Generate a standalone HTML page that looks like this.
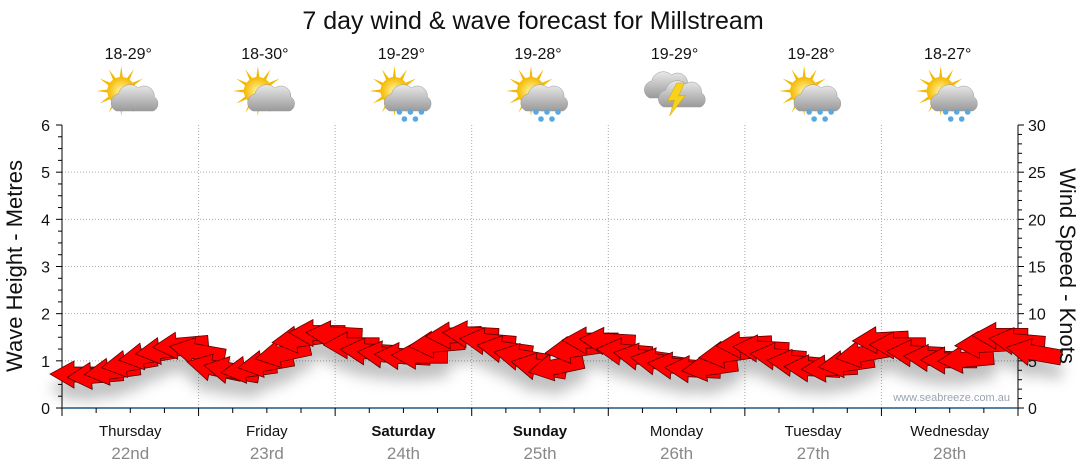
<!DOCTYPE html>
<html><head><meta charset="utf-8"><style>
body{margin:0;background:#fff;}
svg{display:block;font-family:"Liberation Sans","DejaVu Sans",sans-serif;}
</style></head><body>
<svg id="chart" width="1080" height="475" viewBox="0 0 1080 475">
<defs>
<filter id="sh" x="-20%" y="-50%" width="140%" height="250%">
<feDropShadow dx="0" dy="14" stdDeviation="7" flood-color="#000" flood-opacity="0.25"/>
</filter>
<radialGradient id="sun" cx="50%" cy="50%" r="50%"><stop offset="0" stop-color="#fff6a0"/><stop offset="1" stop-color="#f5b800"/></radialGradient>
<linearGradient id="cloud" x1="0" y1="0" x2="0" y2="1"><stop offset="0" stop-color="#e8e8e8"/><stop offset="1" stop-color="#9a9a9a"/></linearGradient>
</defs>
<text x="533" y="29" text-anchor="middle" font-size="25" fill="#111">7 day wind &amp; wave forecast for Millstream</text>
<g id="axes"></g>
<g id="icons"></g>
<g id="arrows" filter="url(#sh)"></g>
<text x="1010" y="401" text-anchor="end" font-size="11" fill="#9aa4b0">www.seabreeze.com.au</text>
<text transform="translate(22,266) rotate(-90)" text-anchor="middle" font-size="22" fill="#111">Wave Height - Metres</text>
<text transform="translate(1060,266) rotate(90)" text-anchor="middle" font-size="22" fill="#111">Wind Speed - Knots</text>
</svg>
<script>
const days = ["Thursday","Friday","Saturday","Sunday","Monday","Tuesday","Wednesday"];
const dates = ["22nd","23rd","24th","25th","26th","27th","28th"];
const boldDays = [false,false,true,true,false,false,false];
const temps = ["18-29°","18-30°","19-29°","19-28°","19-29°","19-28°","18-27°"];
const weather = ["partly","partly","rain","rain","storm","rain","rain"];
const waveTicks = [0,1,2,3,4,5,6];
const windTicks = [0,5,10,15,20,25,30];
const windKnots = [3.6,3.4,3.8,4.6,5.4,6.0,6.6,6.2,
 4.5,4.2,4.0,4.6,5.6,7.2,8.0,7.9,
 6.7,6.1,5.8,5.6,5.6,6.7,7.7,7.9,
 7.2,6.4,5.6,4.6,4.2,6.1,7.2,7.2,
 6.1,5.6,5.1,4.6,4.2,4.2,5.6,6.7,
 6.4,5.6,4.9,4.3,4.2,4.6,5.6,7.2,
 6.7,5.9,5.4,5.1,5.1,6.7,7.7,7.2,6.1];
const windDir = [0,-5,-8,-10,-10,-8,-5,10,
 12,10,-8,-10,-12,-8,0,3,
 0,3,5,3,0,-5,-3,3,
 5,8,10,10,-12,-8,0,3,
 5,8,8,5,3,-8,-8,-3,
 3,5,5,3,-3,-8,-10,-3,
 0,3,3,0,-5,-3,0,5,10];

const NS="http://www.w3.org/2000/svg";
const X0=62,X1=1018,Y0=408,Y1=125;
const dayW=(X1-X0)/7;
const yWave=v=>Y0-(v/6)*(Y0-Y1);
const yWind=v=>Y0-(v/30)*(Y0-Y1);
const xHour=h=>X0+h/24*dayW;
function el(tag,attrs,parent,txt){const e=document.createElementNS(NS,tag);for(const k in attrs)e.setAttribute(k,attrs[k]);if(txt!==undefined)e.textContent=txt;parent.appendChild(e);return e;}
const ax=document.getElementById('axes');
waveTicks.forEach(v=>{ if(v>0&&v<6){const g=el('line',{x1:X0,x2:X1,y1:yWave(v),y2:yWave(v),stroke:'#aaa','stroke-dasharray':'1,2'},ax);

}});
for(let d=1;d<7;d++){const g=el('line',{x1:X0+d*dayW,x2:X0+d*dayW,y1:Y1,y2:Y0,stroke:'#aaa','stroke-dasharray':'1,2'},ax);

}
el('line',{x1:X0,x2:X0,y1:Y1,y2:Y0,stroke:'#000'},ax);
el('line',{x1:X1,x2:X1,y1:Y1,y2:Y0,stroke:'#000'},ax);
el('line',{x1:X0,x2:X1,y1:Y0,y2:Y0,stroke:'#1d5a86','stroke-width':1.5},ax);
for(let i=0;i<=24;i++){const v=i*0.25,y=yWave(v);el('line',{x1:X0-(i%4==0?6:4),x2:X0,y1:y,y2:y,stroke:'#000'},ax);}
for(let i=0;i<=30;i++){const y=yWind(i);el('line',{x1:X1,x2:X1+(i%5==0?6:4),y1:y,y2:y,stroke:'#000'},ax);}
waveTicks.forEach(v=>{const t=el('text',{x:X0-12,y:yWave(v)+6,'text-anchor':'end','font-size':16,fill:'#111'},ax,String(v));

});
windTicks.forEach(v=>{const t=el('text',{x:X1+10,y:yWind(v)+6,'font-size':16,fill:'#111'},ax,String(v));

});
for(let h=0;h<=168;h+=6){const x=xHour(h);el('line',{x1:x,x2:x,y1:Y0,y2:Y0+(h%24==0?8:5),stroke:'#000'},ax);}
days.forEach((d,i)=>{const cx=X0+(i+0.5)*dayW;
const t=el('text',{x:cx,y:436,'text-anchor':'middle','font-size':15,fill:'#111','font-weight':boldDays[i]?'bold':'normal'},ax,d);


const t2=el('text',{x:cx,y:459,'text-anchor':'middle','font-size':17,fill:'#888'},ax,dates[i]);


const t3=el('text',{x:cx-2,y:59,'text-anchor':'middle','font-size':16,fill:'#111'},ax,temps[i]);

});
const ic=document.getElementById('icons');
function sunG(g,cx,cy){for(let a=0;a<360;a+=30){const r=a*Math.PI/180;el('polygon',{points:`${cx+Math.cos(r-0.15)*12},${cy+Math.sin(r-0.15)*12} ${cx+Math.cos(r)*25},${cy+Math.sin(r)*25} ${cx+Math.cos(r+0.15)*12},${cy+Math.sin(r+0.15)*12}`,fill:'#f5b800'},g);}
el('circle',{cx,cy,r:14,fill:'url(#sun)'},g);}
function cloudG(g,cx,cy,s){el('path',{d:`M${cx-19*s},${cy+12*s} a9,9 0 0 1 2,-17 a12,12 0 0 1 20,-6 a10,10 0 0 1 16,9 a8,8 0 0 1 -1,14 z`,fill:'url(#cloud)',stroke:'#999','stroke-width':0.5},g);}
weather.forEach((w,i)=>{const cx=X0+(i+0.5)*dayW-2;const g=el('g',{},ic);


if(w==='storm'){cloudG(g,cx-6,86,1);cloudG(g,cx+8,95,1);el('polygon',{points:`${cx+2},${83} ${cx-7},${101} ${cx},${100} ${cx-5},${116} ${cx+11},${95} ${cx+4},${96} ${cx+10},${83}`,fill:'#f7d21a',stroke:'#d9a000','stroke-width':0.5},g);}
else{sunG(g,cx-7,91);cloudG(g,cx+7,99,1);
if(w==='rain'){[[-2,112],[9,112],[20,112],[3,119],[14,119]].forEach(p=>el('circle',{cx:cx+p[0],cy:p[1],r:2.8,fill:'#5aa8e0'},g));}}
});
const ag=document.getElementById('arrows');
windKnots.forEach((k,i)=>{const x=xHour(i*3)+6,y=yWind(k);
const a=el('polygon',{points:'-18,0 6,-13 6,-7 38,-7 38,8 6,8 6,14',fill:'#ff0000',stroke:'#5a0000','stroke-width':0.8,transform:`translate(${x},${y}) rotate(${windDir[i]})`},ag);

});
</script>
</body></html>
